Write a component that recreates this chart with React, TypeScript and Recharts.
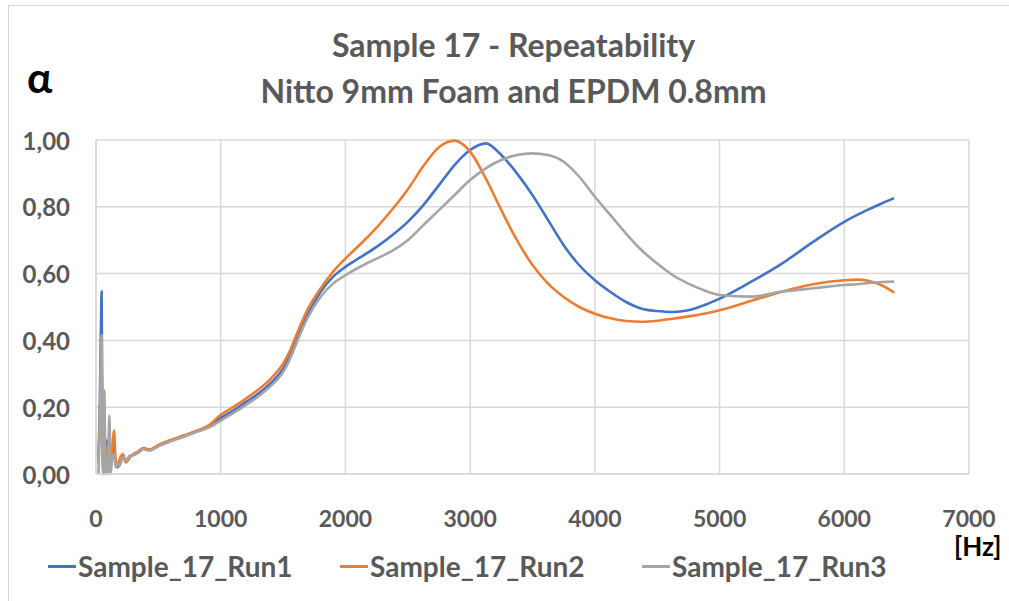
import React from "react";
import { CartesianGrid, Line, LineChart, XAxis, YAxis } from "recharts";

const freq = [
  20, 30, 40, 45, 50, 60, 67, 75, 85, 95, 107, 118, 130, 144, 158, 172, 190, 215, 240, 270,
  300, 340, 380, 430, 500, 600, 700, 800, 900, 1000, 1100, 1200, 1300, 1400, 1500, 1550, 1600, 1700, 1800, 1900,
  2000, 2125, 2250, 2375, 2500, 2625, 2750, 2875, 3000, 3125, 3250, 3375, 3500, 3625, 3750, 3875, 4000, 4125,
  4250, 4375, 4500, 4625, 4750, 4875, 5000, 5250, 5500, 5750, 6000, 6100, 6200, 6300, 6400,
];

const run1 = [
  0.05, 0.2, 0.45, 0.546, 0.2, 0.0, 0.2, 0.02, 0.1, 0.0, 0.12, 0.02, 0.06, 0.08, 0.03, 0.02, 0.03, 0.055, 0.035, 0.05,
  0.058, 0.066, 0.076, 0.072, 0.085, 0.1, 0.113, 0.127, 0.142, 0.168, 0.19, 0.215, 0.24, 0.272, 0.315, 0.35, 0.395, 0.48, 0.545, 0.59,
  0.62, 0.65, 0.68, 0.715, 0.755, 0.805, 0.865, 0.925, 0.97, 0.99, 0.955, 0.9, 0.835, 0.76, 0.685, 0.625, 0.58, 0.545,
  0.515, 0.495, 0.488, 0.485, 0.49, 0.505, 0.525, 0.575, 0.63, 0.695, 0.755, 0.775, 0.793, 0.81, 0.826,
];

const run2 = [
  0.03, 0.15, 0.3, 0.35, 0.15, 0.0, 0.18, 0.0, 0.08, 0.02, 0.1, 0.03, 0.08, 0.13, 0.04, 0.025, 0.045, 0.06, 0.035, 0.05,
  0.06, 0.068, 0.078, 0.074, 0.087, 0.102, 0.115, 0.128, 0.145, 0.177, 0.2, 0.225, 0.252, 0.285, 0.33, 0.365, 0.41, 0.495, 0.555, 0.605,
  0.645, 0.69, 0.738, 0.792, 0.852, 0.922, 0.978, 0.998, 0.965, 0.885, 0.79, 0.7, 0.626, 0.57, 0.53, 0.5, 0.48, 0.466,
  0.458, 0.456, 0.459, 0.465, 0.472, 0.48, 0.49, 0.518, 0.546, 0.568, 0.58, 0.582, 0.578, 0.565, 0.543,
];

const run3 = [
  0.0, 0.15, 0.35, 0.415, 0.1, 0.0, 0.25, 0.0, 0.05, 0.0, 0.175, 0.0, 0.05, 0.06, 0.02, 0.03, 0.025, 0.05, 0.04, 0.055,
  0.056, 0.064, 0.074, 0.07, 0.083, 0.098, 0.111, 0.125, 0.138, 0.16, 0.182, 0.206, 0.232, 0.263, 0.305, 0.34, 0.385, 0.47, 0.53, 0.57,
  0.595, 0.622, 0.645, 0.668, 0.7, 0.745, 0.79, 0.835, 0.88, 0.915, 0.94, 0.955, 0.96, 0.955, 0.935, 0.89, 0.83, 0.775,
  0.72, 0.67, 0.63, 0.595, 0.57, 0.55, 0.536, 0.531, 0.546, 0.556, 0.566, 0.568, 0.572, 0.575, 0.576,
];

const xTicks = [0, 1000, 2000, 3000, 4000, 5000, 6000, 7000];
const yTicks = [0, 0.2, 0.4, 0.6, 0.8, 1.0];

const series = [
  { key: "r1", name: "Sample_17_Run1", color: "#4472C4" },
  { key: "r2", name: "Sample_17_Run2", color: "#ED7D31" },
  { key: "r3", name: "Sample_17_Run3", color: "#A5A5A5" },
];

const data = freq.map((f, i) => ({ f, r1: run1[i], r2: run2[i], r3: run3[i] }));

const FONT = "Lato, 'Open Sans', sans-serif";
const GREY = "#595959";

function XTick({ x, y, payload }: any) {
  return (
    <text x={x} y={y + 36} textAnchor="middle" dominantBaseline="central"
      fontFamily={FONT} fontWeight={700} fontSize={23} fill={GREY}>
      {payload.value}
    </text>
  );
}

function YTick({ y, payload }: any) {
  return (
    <text x={70} y={y} textAnchor="end" dominantBaseline="central"
      fontFamily={FONT} fontWeight={700} fontSize={24} fill={GREY}>
      {payload.value.toFixed(2).replace(".", ",")}
    </text>
  );
}

export default function App() {
  return (
    <div style={{ position: "absolute", left: 0, top: 0, width: 1009, height: 601, background: "#fff", fontFamily: FONT }}>
      <div style={{ position: "absolute", left: 8, top: 5, width: 1000, height: 600, borderLeft: "1px solid #d9d9d9", borderTop: "1px solid #d9d9d9" }} />
      <div style={{ position: "absolute", left: 0, width: 1009, top: 22, textAlign: "center", color: GREY, fontWeight: 700, fontSize: 32, lineHeight: "46px" }}>
        <div style={{ marginLeft: 18 }}>Sample 17 - Repeatability</div>
        <div style={{ marginLeft: 18 }}>Nitto 9mm Foam and EPDM 0.8mm</div>
      </div>
      <div style={{ position: "absolute", left: 27, top: 52, fontSize: 42, fontWeight: 700, color: "#000" }}>α</div>
      <LineChart width={1009} height={601} data={data} margin={{ top: 140, right: 40, bottom: 67, left: 0 }}
        style={{ position: "absolute", left: 0, top: 0 }}>
        <CartesianGrid stroke="#d9d9d9" strokeWidth={1.5} />
        <XAxis type="number" dataKey="f" domain={[0, 7000]} ticks={xTicks} height={60}
          axisLine={{ stroke: "#d9d9d9", strokeWidth: 1.5 }} tickLine={false} tick={<XTick />} interval={0} />
        <YAxis type="number" domain={[0, 1]} ticks={yTicks} width={96}
          axisLine={{ stroke: "#d9d9d9", strokeWidth: 1.5 }} tickLine={false} tick={<YTick />} interval={0} />
        {series.map((s) => (
          <Line key={s.key} type="monotone" dataKey={s.key} name={s.name} stroke={s.color} strokeWidth={2.6}
            dot={false} isAnimationActive={false} />
        ))}
      </LineChart>
      <div style={{ position: "absolute", left: 954, top: 530, fontSize: 26, fontWeight: 700, color: "#000" }}>[Hz]</div>
      {series.map((s, i) => (
        <div key={s.key} style={{ position: "absolute", left: [48, 340, 642][i], top: 549, display: "flex", alignItems: "center", height: 34 }}>
          <div style={{ width: 28, height: 3, background: s.color, marginRight: 2 }} />
          <span style={{ fontSize: 28, fontWeight: 700, color: GREY }}>{s.name}</span>
        </div>
      ))}
    </div>
  );
}
